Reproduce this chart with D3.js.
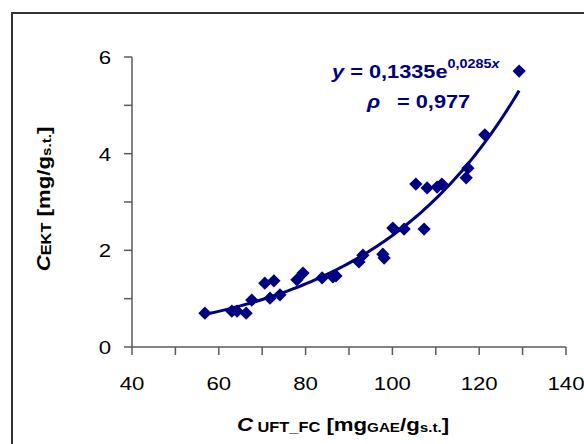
<!DOCTYPE html>
<html><head><meta charset="utf-8">
<script src="https://cdn.jsdelivr.net/npm/d3@7"></script>
<style>body{margin:0;background:#fff}text{font-family:"Liberation Sans",Arial,sans-serif}</style>
</head><body>
<script>
const xValues = [56.8,63.0,64.2,66.3,67.6,70.6,71.8,72.7,74.1,78.0,79.4,83.8,86.3,87.0,92.3,93.2,97.8,98.1,100.1,102.7,107.3,105.4,108.0,110.3,111.4,117.0,117.4,121.3,129.2];
const yValues = [0.70,0.74,0.74,0.70,0.97,1.32,1.01,1.37,1.08,1.39,1.53,1.43,1.45,1.47,1.76,1.90,1.92,1.84,2.46,2.44,2.44,3.37,3.29,3.31,3.37,3.50,3.70,4.39,5.71];
const trendA = 0.1335, trendB = 0.0285;
const xTicks = [40,50,60,70,80,90,100,110,120,130,140];
const xTickLabels = [40,60,80,100,120,140];
const yTicks = [0,1,2,3,4,5,6];
const yTickLabels = [0,2,4,6];

const W=584,H=444, navy="#000080", axisCol="#5a5a5a", SX=1.17;
const svg=d3.select("body").append("svg").attr("width",W).attr("height",H);
svg.append("rect").attr("x",12).attr("y",13).attr("width",700).attr("height",600)
  .attr("fill","none").attr("stroke","#333").attr("stroke-width",2);

const x=d3.scaleLinear().domain([40,140]).range([132,566]);
const y=d3.scaleLinear().domain([0,6]).range([347,57]);

// axes lines
svg.append("line").attr("x1",x(40)).attr("x2",x(140)).attr("y1",y(0)).attr("y2",y(0)).attr("stroke",axisCol).attr("stroke-width",1.5);
svg.append("line").attr("x1",x(40)).attr("x2",x(40)).attr("y1",y(6)).attr("y2",y(0)).attr("stroke",axisCol).attr("stroke-width",1.5);
svg.selectAll(".xt").data(xTicks).enter().append("line")
  .attr("x1",d=>x(d)).attr("x2",d=>x(d)).attr("y1",y(0)).attr("y2",y(0)+8).attr("stroke",axisCol).attr("stroke-width",1.5);
svg.selectAll(".yt").data(yTicks).enter().append("line")
  .attr("x1",x(40)-8).attr("x2",x(40)).attr("y1",d=>y(d)).attr("y2",d=>y(d)).attr("stroke",axisCol).attr("stroke-width",1.5);
svg.selectAll(".xl").data(xTickLabels).enter().append("text")
  .attr("transform",d=>`translate(${x(d)},390) scale(${SX},1)`).attr("text-anchor","middle")
  .attr("font-size",19).attr("fill","#000").text(d=>d);
svg.selectAll(".yl").data(yTickLabels).enter().append("text")
  .attr("transform",d=>`translate(111,${y(d)+7}) scale(${SX},1)`).attr("text-anchor","end")
  .attr("font-size",19).attr("fill","#000").text(d=>d);

// trendline
const xr=d3.extent(xValues);
const tx=d3.range(xr[0],xr[1]+0.001,(xr[1]-xr[0])/100);
svg.append("path").datum(tx).attr("fill","none").attr("stroke",navy).attr("stroke-width",3)
  .attr("d",d3.line().x(d=>x(d)).y(d=>y(trendA*Math.exp(trendB*d))));

// points
const sym=d3.symbol().type(d3.symbolSquare).size(88);
svg.selectAll(".pt").data(xValues).enter().append("path")
  .attr("d",sym).attr("fill",navy)
  .attr("transform",(d,i)=>`translate(${x(d)},${y(yValues[i])}) rotate(45)`);

// equation
const eq=svg.append("text").attr("transform",`translate(332,78) scale(${SX},1)`)
  .attr("font-size",18.6).attr("font-weight","bold").attr("fill",navy);
eq.append("tspan").attr("font-style","italic").text("y");
eq.append("tspan").text(" = 0,1335e");
eq.append("tspan").attr("font-size",12.3).attr("dy",-10).text("0,0285");
eq.append("tspan").attr("font-size",12.3).attr("font-style","italic").text("x");
svg.append("text").attr("transform",`translate(367,108) scale(${SX},1)`)
  .attr("font-size",18.6).attr("font-weight","bold").attr("font-style","italic").attr("fill",navy).text("ρ");
svg.append("text").attr("transform",`translate(397,108) scale(${SX},1)`)
  .attr("font-size",18.6).attr("font-weight","bold").attr("fill",navy).text("= 0,977");

// x title
const xt=svg.append("text").attr("transform",`translate(343,431) scale(${SX},1)`).attr("text-anchor","middle")
  .attr("font-weight","bold").attr("font-size",19).attr("fill","#000");
xt.append("tspan").attr("font-style","italic").text("C");
xt.append("tspan").attr("font-size",14).attr("dy",1).text(" UFT_FC");
xt.append("tspan").attr("dy",-1).text(" [mg");
xt.append("tspan").attr("font-size",13).attr("dy",1).text("GAE");
xt.append("tspan").attr("dy",-1).text("/g");
xt.append("tspan").attr("font-size",13).attr("dy",1).text("s.t.");
xt.append("tspan").attr("dy",-1).text("]");

// y title
const yt=svg.append("text").attr("transform",`translate(50,199) rotate(-90) scale(${SX},1)`).attr("text-anchor","middle")
  .attr("font-weight","bold").attr("font-size",19).attr("fill","#000");
yt.append("tspan").attr("font-style","italic").text("C");
yt.append("tspan").attr("font-size",14).attr("dy",1).text("EKT");
yt.append("tspan").attr("dy",-1).text(" [mg/g");
yt.append("tspan").attr("font-size",13).attr("dy",1).text("s.t.");
yt.append("tspan").attr("dy",-1).text("]");
</script>
</body></html>
